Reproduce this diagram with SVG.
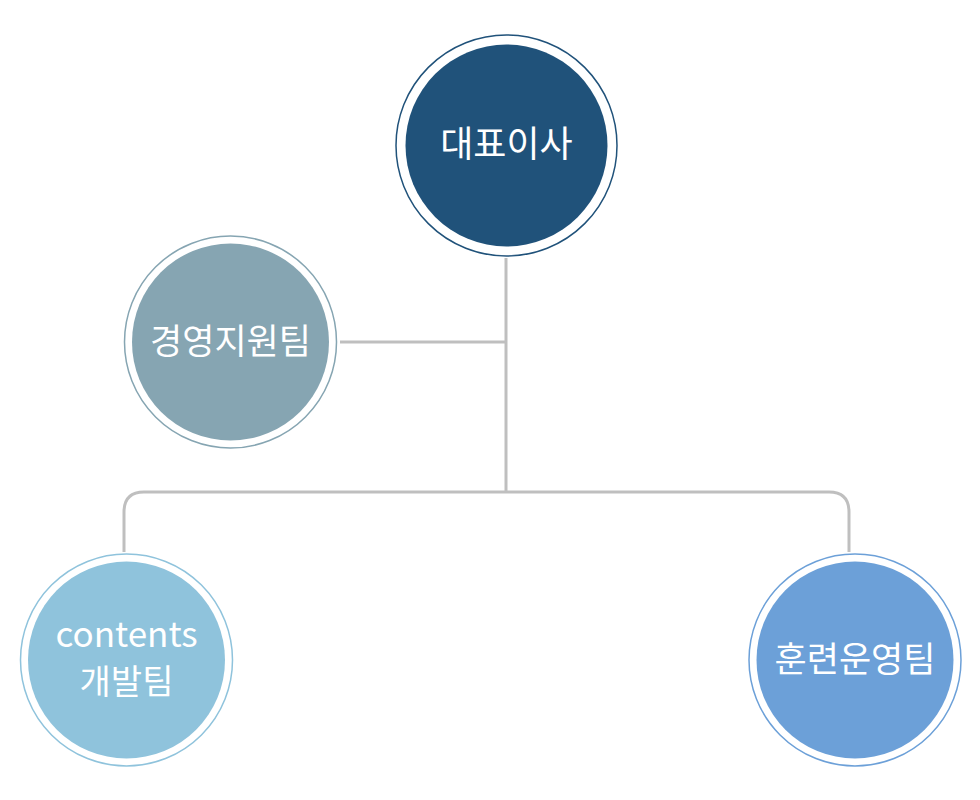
<svg xmlns="http://www.w3.org/2000/svg" width="980" height="800" viewBox="0 0 980 800">
<style>
.lbl{font-family:"Noto Sans CJK KR","Noto Sans",sans-serif;font-size:35px;fill:#ffffff;text-anchor:middle}
.ring{fill:#ffffff;stroke-width:1.5}
.conn{fill:none;stroke:#BFBFBF;stroke-width:3}
</style>
<rect width="980" height="800" fill="#ffffff"/>
<g id="connectors">
<path class="conn" d="M506 258 V492"/>
<path class="conn" d="M340 342 H506"/>
<path class="conn" d="M124 552 V512 Q124 492 144 492 H829 Q849 492 849 512 V552"/>
</g>
<g id="ceo">
<circle class="ring" cx="506.5" cy="145.5" r="110.5" stroke="#20527A"/>
<circle cx="506.5" cy="145.5" r="101" fill="#20527A"/>
<text class="lbl" x="506.5" y="157" style="font-size:36px">대표이사</text>
</g>
<g id="management">
<circle class="ring" cx="230.5" cy="342" r="106" stroke="#86A5B2"/>
<circle cx="230.5" cy="342" r="98.5" fill="#86A5B2"/>
<text class="lbl" x="230.5" y="354">경영지원팀</text>
</g>
<g id="contents">
<circle class="ring" cx="126.5" cy="660" r="106" stroke="#8FC3DC"/>
<circle cx="126.5" cy="660" r="98.5" fill="#8FC3DC"/>
<text class="lbl" x="126.5" y="647" style="font-size:35px">contents</text>
<text class="lbl" x="126.5" y="694" style="font-size:34px">개발팀</text>
</g>
<g id="training">
<circle class="ring" cx="855" cy="660" r="106" stroke="#6CA0D8"/>
<circle cx="855" cy="660" r="98.5" fill="#6CA0D8"/>
<text class="lbl" x="855" y="672">훈련운영팀</text>
</g>
</svg>
